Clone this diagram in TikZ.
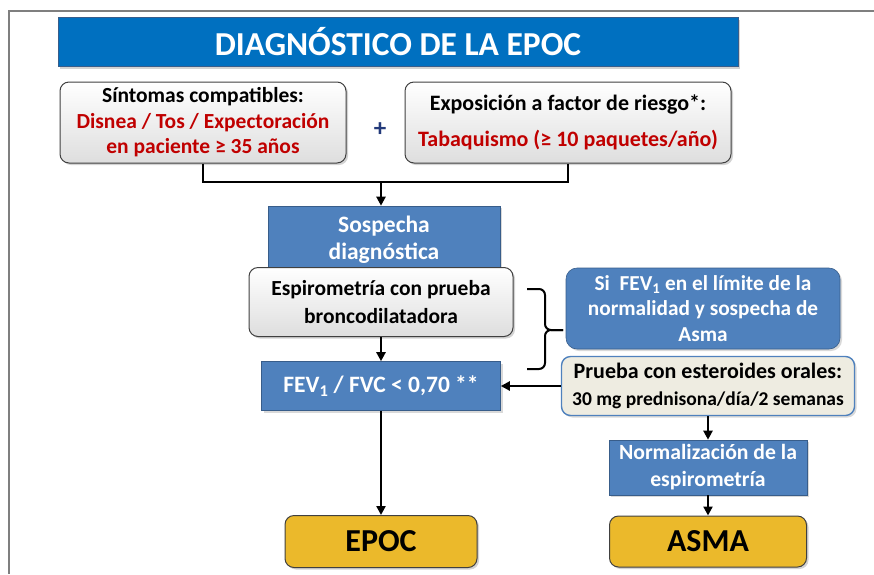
\documentclass[tikz,border=0pt]{standalone}
\usepackage{fontspec}
\setmainfont{Carlito}
\usepackage{tikz}
\usetikzlibrary{arrows.meta,shapes,shadows}

\definecolor{titleblue}{HTML}{0070C0}
\definecolor{boxblue}{HTML}{4F81BD}
\definecolor{edgeblue}{HTML}{385D8A}
\definecolor{alertred}{HTML}{C00000}
\definecolor{plusnavy}{HTML}{233A7A}
\definecolor{creamfill}{HTML}{EEECE1}
\definecolor{goldfill}{HTML}{EBB92B}
\definecolor{framegrey}{HTML}{7F7F7F}

\begin{document}
\begin{tikzpicture}[x=1pt,y=-1pt,>={Triangle[length=9pt,width=9pt]},auto]

	\tikzstyle{txt}=[font=\bfseries\fontsize{21.5}{25.5}\selectfont,align=center,inner sep=0pt]
	\tikzstyle{header}=[rectangle,fill=titleblue,draw=edgeblue,text=white,inner sep=0pt,
		font=\bfseries\fontsize{33.5}{38}\selectfont,drop shadow={opacity=0.35,shadow xshift=2pt,shadow yshift=-2pt}]
	\tikzstyle{greybox}=[rectangle,txt,rounded corners=9pt,draw=black!75,line width=1pt,
		top color=white,bottom color=black!13,drop shadow={opacity=0.35,shadow xshift=2pt,shadow yshift=-2pt}]
	\tikzstyle{bluebox}=[rectangle,txt,fill=boxblue,draw=edgeblue,line width=0.6pt,text=white,
		drop shadow={opacity=0.3,shadow xshift=2pt,shadow yshift=-2pt}]
	\tikzstyle{creambox}=[rectangle,txt,rounded corners=9pt,fill=creamfill,draw=boxblue,line width=1.4pt,
		drop shadow={opacity=0.3,shadow xshift=2pt,shadow yshift=-2pt}]
	\tikzstyle{goldbox}=[rectangle,txt,rounded corners=9pt,fill=goldfill,draw=black!75,line width=1pt,
		font=\bfseries\fontsize{32}{36}\selectfont,drop shadow={opacity=0.35,shadow xshift=2pt,shadow yshift=-2pt}]
	\tikzstyle{link}=[draw=black,line width=2.3pt]
	\tikzstyle{pre}=[<-,link]
	\tikzstyle{post}=[->,link]

	\useasboundingbox (0,0) rectangle (874,574);
	\draw [framegrey,line width=2pt] (874,11) -- (9,11) -- (9,574);

	\node [header,minimum width=680pt,minimum height=49pt] (title) at (398,42) {DIAGNÓSTICO DE LA EPOC};

	\node [greybox,minimum width=286pt,minimum height=81pt] (sint) at (203,122.5)
		{Síntomas compatibles:\\ \color{alertred}Disnea / Tos / Expectoración\\ \color{alertred}en paciente ≥ 35 años};
	\node [txt,text=plusnavy,font=\bfseries\fontsize{25}{25}\selectfont] (plus) at (380,130) {+};
	\node [greybox,minimum width=326pt,minimum height=81pt,font=\bfseries\fontsize{22}{25.5}\selectfont] (expo) at (568,122.5)
		{Exposición a factor de riesgo*:\\[11pt] \color{alertred}Tabaquismo (≥ 10 paquetes/año)};

	\coordinate (join) at (381,182);
	\draw [link] (sint.south) |- (join) -| (expo.south);

	\node [bluebox,minimum width=232pt,minimum height=68pt,font=\bfseries\fontsize{23.5}{27}\selectfont]
		(sosp) at (384,240) {Sospecha\\diagnóstica};
	\draw [post] (join) -- (join |- sosp.north);

	\node [greybox,minimum width=264pt,minimum height=69pt,font=\bfseries\fontsize{21.5}{28}\selectfont]
		(espi) at (381,302) {Espirometría con prueba\\broncodilatadora};

	\node [bluebox,minimum width=239pt,minimum height=49pt,font=\bfseries\fontsize{23.5}{25}\selectfont]
		(fev) at (381,386) {FEV\textsubscript{1} / FVC < 0,70 **}
		edge [pre] (espi);

	\node [bluebox,rounded corners=11pt,minimum width=274pt,minimum height=81pt,font=\bfseries\fontsize{21.3}{25.5}\selectfont]
		(cond) at (703,308.5) {Si~ FEV\textsubscript{1} en el límite de la\\normalidad y sospecha de\\Asma};

	% llave
	\coordinate (brT) at (527,289);
	\coordinate (brM) at (563,330);
	\coordinate (brB) at (527,369);
	\draw [link,line width=2pt,rounded corners=6pt] (brT) -| (545,330) -- (brM);
	\draw [link,line width=2pt,rounded corners=6pt] (brB) -| (545,330) -- (brM);

	\node [creambox,minimum width=293pt,minimum height=59pt,font=\bfseries\fontsize{22}{27}\selectfont]
		(prueba) at (708,386) {Prueba con esteroides orales:\\ \fontsize{19.5}{22}\selectfont 30 mg prednisona/día/2 semanas}
		edge [post] (fev);

	\node [bluebox,minimum width=198pt,minimum height=55pt,font=\bfseries\fontsize{21.7}{27}\selectfont]
		(norm) at (708,467.5) {Normalización de la\\espirometría}
		edge [pre] (prueba);

	\node [goldbox,minimum width=197pt,minimum height=51pt] (asma) at (708,541.5) {ASMA}
		edge [pre] (norm);
	\node [goldbox,minimum width=192pt,minimum height=52pt] (epoc) at (381,541.5) {EPOC}
		edge [pre] (fev);

\end{tikzpicture}
\end{document}
